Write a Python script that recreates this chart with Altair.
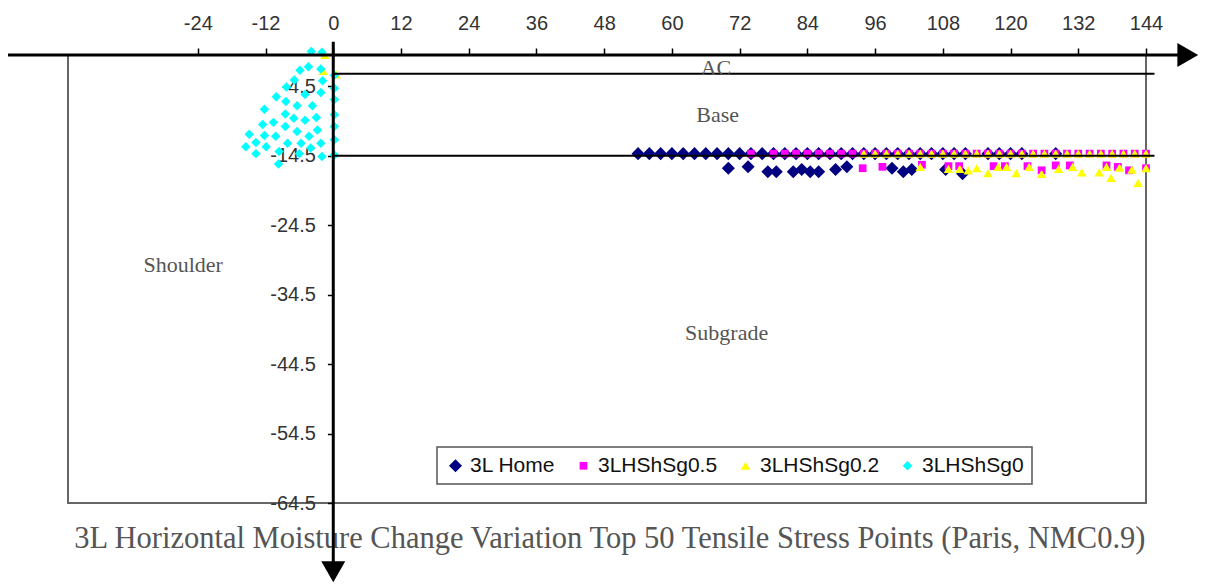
import altair as alt
import pandas as pd

# ---------------- data ----------------
series_names = ["3L Home", "3LHShSg0.5", "3LHShSg0.2", "3LHShSg0"]
series_colors = ["#000080", "#ff00ff", "#ffff00", "#00ffff"]
series_shapes = ["diamond", "square", "triangle-up", "diamond"]
series_sizes = [170, 60, 90, 90]

home_x = [54, 56, 58, 60, 62, 64, 66, 68, 70, 72, 74, 76, 78, 80, 82, 84, 86, 88, 90, 92,
          94, 96, 98, 100, 102, 104, 106, 108, 110, 112, 116, 118, 120, 122, 128,
          70, 73.5, 77, 78.5, 81.5, 83, 84.5, 86, 89, 91, 99, 101, 102.5, 108.5, 111.5]
home_y = [-14.2, -14.2, -14.2, -14.2, -14.2, -14.2, -14.2, -14.2, -14.2, -14.2,
          -14.2, -14.2, -14.2, -14.2, -14.2, -14.2, -14.2, -14.2, -14.2, -14.2,
          -14.2, -14.2, -14.2, -14.2, -14.2, -14.2, -14.2, -14.2, -14.2, -14.2,
          -14.2, -14.2, -14.2, -14.2, -14.2,
          -16.3, -16.1, -16.8, -16.8, -16.8, -16.5, -16.8, -16.8, -16.5, -16.1,
          -16.3, -16.8, -16.5, -16.5, -17.1]

sg05_x = [74, 78, 80, 82, 84, 86, 88, 90, 92, 94, 96, 98, 100, 102, 104, 106, 108, 110,
          112, 114, 116, 118, 120, 122, 124, 126, 128, 130, 132, 134, 136, 138, 140, 142, 144,
          93.8, 97.3, 104.3, 109, 110.9, 117, 119, 123, 125.5, 128, 130.5, 137, 139, 141, 144]
sg05_y = [-14.2, -14.2, -14.2, -14.2, -14.2, -14.2, -14.2, -14.2, -14.2, -14.2,
          -14.2, -14.2, -14.2, -14.2, -14.2, -14.2, -14.2, -14.2, -14.2, -14.2,
          -14.2, -14.2, -14.2, -14.2, -14.2, -14.2, -14.2, -14.2, -14.2, -14.2,
          -14.2, -14.2, -14.2, -14.2, -14.2,
          -16.3, -16.1, -15.8, -16.0, -16.0, -16.0, -16.0, -16.0, -16.6, -15.9,
          -15.9, -15.9, -16.1, -16.6, -16.3]

sg02_x = [94, 96, 98, 100, 102, 104, 106, 108, 110, 112, 114, 116, 118, 120, 122, 124,
          126, 128, 130, 132, 134, 136, 138, 140, 142, 144,
          104, 109, 111, 112.5, 114, 116, 117.8, 119.3, 121, 123.3, 125.5, 128.5, 131,
          132.6, 135.7, 137, 137.8, 139.3, 141.5, 142.6, 144,
          -1.8, -1.5, 0.5]
sg02_y = [-14.2, -14.2, -14.2, -14.2, -14.2, -14.2, -14.2, -14.2, -14.2, -14.2,
          -14.2, -14.2, -14.2, -14.2, -14.2, -14.2, -14.2, -14.2, -14.2, -14.2,
          -14.2, -14.2, -14.2, -14.2, -14.2, -14.2,
          -16.1, -16.4, -16.4, -16.6, -16.3, -17.0, -16.1, -16.1, -17.0, -16.1,
          -17.1, -16.4, -16.1, -16.9, -16.9, -16.1, -17.7, -16.2, -16.5, -18.4, -16.3,
          -2.3, 0.0, -2.8]

sg0_x = [-3.9, -2.0, -4.4, -5.9, -2.2, -1.9, 0.2, -8.3, -2.2, 0.2,
         -10.1, -8.4, -6.4, -3.7, -12.2, -8.5, -7.0, -5.0, -10.6, 0.2,
         -14.9, -12.2, -10.2, -8.5, -6.4, -4.3, -2.8, -15.5, -13.7, -11.9,
         -8.1, -5.7, -2.2, -13.7, -9.6, -6.0, -4.0, -2.0, -9.7, 0.2,
         0.2, 0.2, 0.2, -5.0, -6.9, -12.5, -3.0]
sg0_y = [0.5, 0.4, -1.7, -2.2, -2.0, -3.7, -2.9, -4.6, -5.4, -4.8,
         -6.0, -6.7, -7.3, -7.3, -7.8, -8.5, -9.1, -9.4, -9.7, -8.6,
         -11.4, -11.6, -11.7, -10.3, -11.0, -11.7, -10.8, -13.2, -12.6, -13.2,
         -12.7, -12.7, -12.7, -14.2, -13.9, -14.2, -13.4, -14.6, -15.7, -10.3,
         -12.2, -14.4, -6.4, -5.7, -3.6, -10.0, -9.0]

x_ticks = [-24, -12, 0, 12, 24, 36, 48, 60, 72, 84, 96, 108, 120, 132, 144]
y_ticks = [-4.5, -14.5, -24.5, -34.5, -44.5, -54.5, -64.5]
x_domain = [-47, 144]
y_domain = [-64.5, 0]

layer_lines_y = [-2.7, -14.5]          # AC / Base interfaces
layer_lines_x = [0, 0]
layer_lines_x2 = [145.5, 145.5]

region_labels = ["AC", "Base", "Shoulder", "Subgrade"]
region_x = [67.8, 68.1, -26.6, 69.7]
region_y = [-1.8, -8.6, -30.2, -40.0]

title_text = "3L Horizontal Moisture Change Variation Top 50 Tensile Stress Points (Paris, NMC0.9)"

# ---------------- tables ----------------
rows = []
for name, xs_, ys_ in zip(series_names, [home_x, sg05_x, sg02_x, sg0_x], [home_y, sg05_y, sg02_y, sg0_y]):
    for xv, yv in zip(xs_, ys_):
        rows.append({"series": name, "x": xv, "y": yv})
points_df = pd.DataFrame(rows)

lines_df = pd.DataFrame({"x": layer_lines_x, "x2": layer_lines_x2, "y": layer_lines_y})
regions_df = pd.DataFrame({"x": region_x, "y": region_y, "label": region_labels})
title_df = pd.DataFrame({"x": [49], "y": [-69.7], "label": [title_text]})
haxis_df = pd.DataFrame({"x": [-58.2], "x2": [150.5], "y": [0]})
vaxis_df = pd.DataFrame({"x": [0], "y": [1.9], "y2": [-73.4]})
harrow_df = pd.DataFrame({"x": [151.4], "y": [0]})
varrow_df = pd.DataFrame({"x": [0], "y": [-74.4]})

xs = alt.Scale(domain=x_domain, nice=False, zero=False)
ys = alt.Scale(domain=y_domain, nice=False, zero=False)

X_AXIS = alt.Axis(orient="top", values=x_ticks, labelExpr="'' + datum.value", domain=False,
                  grid=False, tickSize=7, tickColor="#000", tickWidth=1.5, labelFontSize=20,
                  labelFont="Liberation Sans", labelColor="#333", labelPadding=15,
                  labelFlush=False, labelOverlap=False, title=None)
Y_AXIS = alt.Axis(orient="left", offset=-265.4, values=y_ticks, labelExpr="'' + datum.value",
                  domain=False, grid=False, tickSize=6, tickColor="#000", tickWidth=1.5,
                  labelFontSize=20, labelFont="Liberation Sans", labelColor="#333",
                  labelPadding=12, labelFlush=False, labelOverlap=False, title=None)

def X(field="x"):
    return alt.X(f"{field}:Q", scale=xs, axis=X_AXIS)

def Y(field="y"):
    return alt.Y(f"{field}:Q", scale=ys, axis=Y_AXIS)

points = alt.Chart(points_df).mark_point(filled=True, opacity=1, strokeWidth=0).encode(
    x=X(), y=Y(),
    color=alt.Color("series:N", scale=alt.Scale(domain=series_names, range=series_colors), title=None),
    shape=alt.Shape("series:N", scale=alt.Scale(domain=series_names, range=series_shapes), title=None),
    size=alt.Size("series:N", scale=alt.Scale(type="ordinal", domain=series_names, range=series_sizes),
                  title=None),
)

hlines = alt.Chart(lines_df).mark_rule(color="black", strokeWidth=2).encode(
    x=X(), x2="x2:Q", y=Y())

regions = alt.Chart(regions_df).mark_text(font="Liberation Serif", fontSize=22, color="#555",
                                          align="center", baseline="middle").encode(
    x=X(), y=Y(), text="label:N")

title = alt.Chart(title_df).mark_text(font="Liberation Serif", fontSize=30.5, color="#555",
                                      align="center", baseline="middle").encode(
    x=X(), y=Y(), text="label:N")

haxis = alt.Chart(haxis_df).mark_rule(color="black", strokeWidth=3).encode(
    x=X(), x2="x2:Q", y=Y())
vaxis = alt.Chart(vaxis_df).mark_rule(color="black", strokeWidth=3).encode(
    x=X(), y=Y(), y2="y2:Q")
harrow = alt.Chart(harrow_df).mark_point(shape="triangle-right", filled=True, size=576,
                                         color="black", opacity=1).encode(x=X(), y=Y())
varrow = alt.Chart(varrow_df).mark_point(shape="triangle-down", filled=True, size=576,
                                         color="black", opacity=1).encode(x=X(), y=Y())

chart = alt.layer(points, hlines, regions, title, haxis, vaxis, harrow, varrow).properties(
    width=1078, height=448,
    autosize=alt.AutoSizeParams(type="none"),
    padding={"left": 60, "top": 47, "right": 53, "bottom": 84},
    background="white",
).configure_view(stroke="#666", strokeWidth=2).configure_legend(
    orient="none", legendX=369, legendY=392, direction="horizontal",
    fillColor="white", strokeColor="#555", strokeWidth=1.5, padding=8,
    labelFont="Liberation Sans", labelFontSize=21, labelColor="#111",
    columnPadding=17, labelOffset=4, symbolStrokeWidth=0, symbolOpacity=1,
)

chart.save("out.html", embed_options={"renderer": "svg", "actions": False})
